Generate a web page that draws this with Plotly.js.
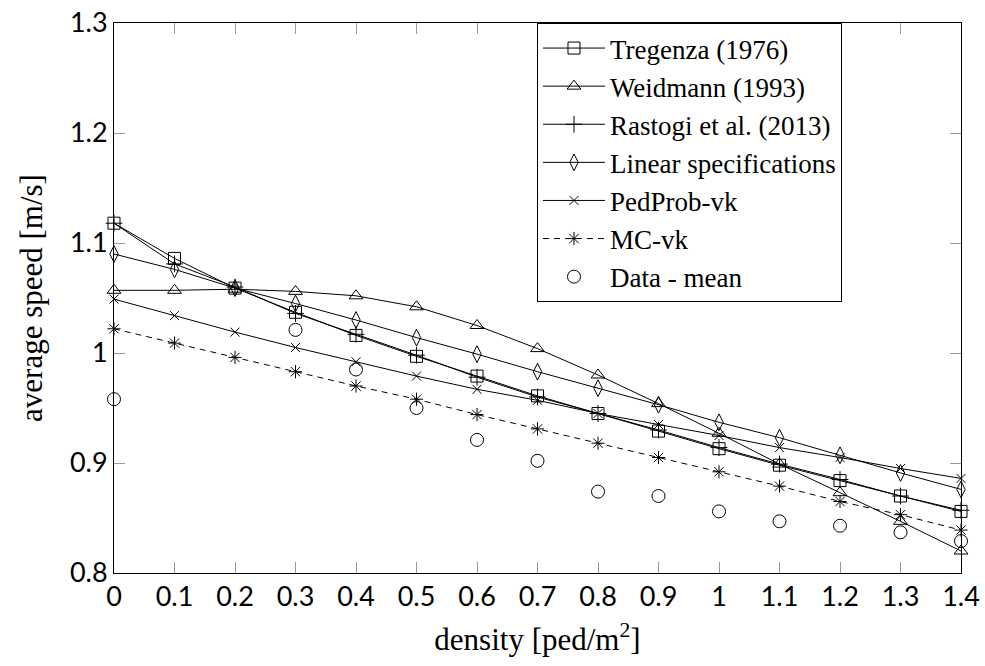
<!DOCTYPE html>
<html>
<head>
<meta charset="utf-8">
<script src="https://cdn.plot.ly/plotly-3.0.1.min.js"></script>
<style>html,body{margin:0;padding:0;background:#fff;}#chart{width:985px;height:666px;}</style>
</head>
<body>
<div id="chart"></div>
<script>
const density = [0,0.1,0.2,0.3,0.4,0.5,0.6,0.7,0.8,0.9,1.0,1.1,1.2,1.3,1.4];
const tregenza = [1.118,1.086,1.059,1.037,1.016,0.997,0.979,0.961,0.945,0.929,0.913,0.898,0.884,0.870,0.856];
const weidmann = [1.057,1.057,1.058,1.056,1.052,1.042,1.025,1.004,0.980,0.954,0.927,0.899,0.873,0.847,0.820];
const rastogi = [1.118,1.081,1.060,1.036,1.017,0.998,0.978,0.960,0.945,0.930,0.914,0.899,0.885,0.870,0.857];
const linearSpec = [1.090,1.076,1.059,1.045,1.030,1.014,0.999,0.983,0.968,0.953,0.937,0.923,0.907,0.891,0.876];
const pedProb = [1.049,1.034,1.019,1.005,0.992,0.979,0.967,0.957,0.945,0.935,0.925,0.914,0.905,0.895,0.886];
const mcVk = [1.022,1.009,0.996,0.983,0.970,0.958,0.944,0.931,0.918,0.905,0.892,0.879,0.865,0.853,0.839];
const dataDensity = [0,0.3,0.4,0.5,0.6,0.7,0.8,0.9,1.0,1.1,1.2,1.3,1.4];
const dataMean = [0.958,1.021,0.985,0.950,0.921,0.902,0.874,0.870,0.856,0.847,0.843,0.837,0.829];
const seriesNames = ["Tregenza (1976)","Weidmann (1993)","Rastogi et al. (2013)","Linear specifications","PedProb-vk","MC-vk","Data - mean"];

function tr(name, x, y, symbol, size, dash, mode){
  return {x:x, y:y, name:name, legendgroup:name, type:'scatter', mode:mode||'lines+markers',
    line:{color:'black', width:1, dash:dash||'solid'},
    marker:{symbol:symbol, size:size, color:'black', line:{color:'black', width:1}},
    cliponaxis:false};
}
const traces = [
  tr(seriesNames[0], density, tregenza, 'square-open', 12),
  tr(seriesNames[1], density, weidmann, 'triangle-up-open', 12),
  tr(seriesNames[2], density, rastogi, 'cross-thin-open', 12),
  tr(seriesNames[3], density, linearSpec, 'diamond-tall-open', 12),
  tr(seriesNames[4], density, pedProb, 'x-thin-open', 9),
  tr(seriesNames[5], density, mcVk, 'asterisk-open', 11, '6px,5px'),
  tr(seriesNames[6], dataDensity, dataMean, 'circle-open', 13, null, 'markers')
];

const tickFont = {family:'Lato, "Open Sans", sans-serif', size:27, color:'black'};
const titleFont = {family:'"Liberation Serif", "DejaVu Serif", serif', size:31, color:'black'};
const layout = {
  width:985, height:666,
  margin:{l:114, r:24, t:23, b:93},
  paper_bgcolor:'white', plot_bgcolor:'white',
  showlegend:true,
  legend:{x:0.4994, y:1, xanchor:'left', yanchor:'top', bgcolor:'white',
    bordercolor:'black', borderwidth:1, font:{family:'"Liberation Serif", serif', size:27, color:'black'},
    tracegroupgap:0, itemwidth:62},
  xaxis:{range:[0,1.4], dtick:0.1, tick0:0, ticks:'inside', ticklen:11, tickcolor:'#999',
    showline:true, linecolor:'black', linewidth:1, mirror:'ticks', showgrid:false, zeroline:false,
    tickfont:tickFont, automargin:false,
    title:{text:'density [ped/m<sup>2</sup>]', font:titleFont, standoff:16}},
  yaxis:{range:[0.8,1.3], dtick:0.1, tick0:0.8, ticks:'inside', ticklen:11, tickcolor:'#999',
    showline:true, linecolor:'black', linewidth:1, mirror:'ticks', showgrid:false, zeroline:false,
    tickfont:tickFont, automargin:false,
    title:{text:'average speed [m/s]', font:titleFont, standoff:18}}
};
Plotly.newPlot('chart', traces, layout, {staticPlot:true, displayModeBar:false});
</script>
</body>
</html>
